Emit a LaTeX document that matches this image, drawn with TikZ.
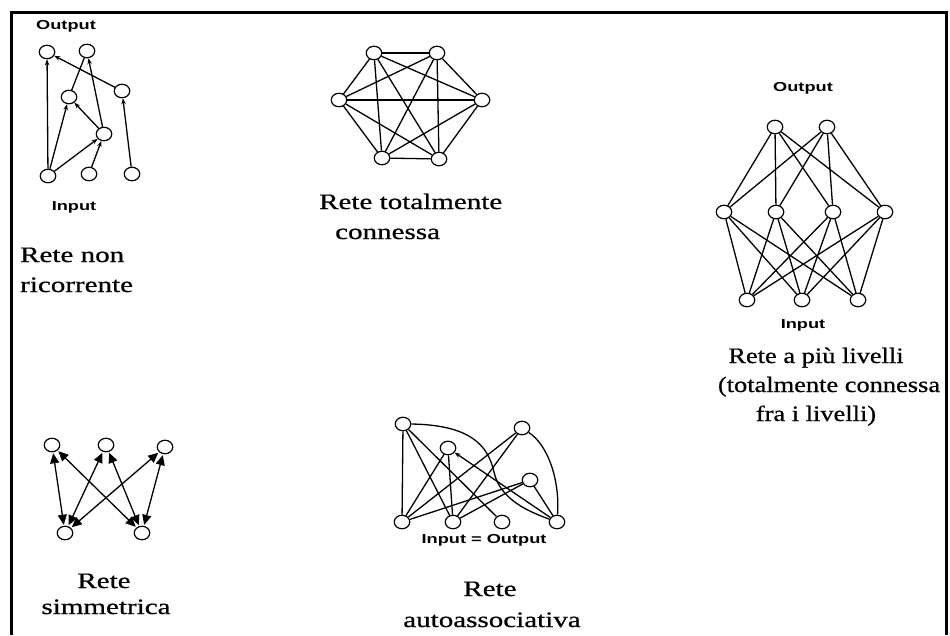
\documentclass[tikz,border=0pt]{standalone}
\usepackage{fontspec}
\setmainfont{Liberation Serif}[FakeBold=0.6]
\newfontfamily\labfont{Liberation Sans}
\usetikzlibrary{shapes.geometric,arrows.meta}
\newcommand\wtxt[1]{\scalebox{1.32}[1]{#1}}
\newcommand\ntxt[1]{\scalebox{1.2}[1]{#1}}
\newcommand\stxt[1]{\scalebox{1.4}[1]{#1}}
\tikzset{
  nd/.style={draw, ellipse, minimum width=15.5pt, minimum height=13.5pt, inner sep=0pt, line width=1.2pt, fill=white},
  ed/.style={line width=1.3pt},
  sarr/.style={ed, -{Stealth[length=6pt,width=4.5pt]}},
  barr/.style={ed, {Triangle[length=10pt,width=9pt]}-{Triangle[length=10pt,width=9pt]}, shorten <=1pt, shorten >=1pt},
  big/.style={inner sep=0pt, font=\fontsize{22}{26}\selectfont},
  small/.style={inner sep=0pt, font=\labfont\bfseries\fontsize{13}{15}\selectfont}
}
\begin{document}
\begin{tikzpicture}[x=1pt,y=-1pt]
\useasboundingbox (0,0) rectangle (950,635);
\fill[white] (0,0) rectangle (950,635);
\draw[line width=3pt] (11,635) -- (11,12) -- (946,12) -- (946,635);

% ---------- Panel 1: Rete non ricorrente
\node[nd] (p1o1) at (47,52) {};
\node[nd] (p1o2) at (87,51) {};
\node[nd] (p1h1) at (69,97) {};
\node[nd] (p1h2) at (122,91) {};
\node[nd] (p1h3) at (104,134) {};
\node[nd] (p1i1) at (48,176) {};
\node[nd] (p1i2) at (89,174) {};
\node[nd] (p1i3) at (132,174) {};
\draw[sarr] (p1i1) -- (p1o1);
\draw[sarr] (p1i1) -- (p1h1);
\draw[sarr] (p1i1) -- (p1h3);
\draw[sarr] (p1i2) -- (p1h3);
\draw[sarr] (p1i3) -- (p1h2);
\draw[sarr] (p1h3) -- (p1h1);
\draw[sarr] (p1h3) -- (p1o2);
\draw[ed] (p1h1) -- (p1o2);
\draw[sarr] (p1h2) -- (p1o1);
\node[small] (p1out) at (66,26) {\stxt{Output}};
\node[small] (p1in) at (74,207) {\stxt{Input}};
\node[big, anchor=base west] (p1t1) at (20,262) {\wtxt{Rete non}};
\node[big, anchor=base west] (p1t2) at (20,292) {\wtxt{ricorrente}};

% ---------- Panel 2: Rete totalmente connessa
\node[nd] (p2a) at (374,53) {};
\node[nd] (p2b) at (437,53) {};
\node[nd] (p2c) at (339,100) {};
\node[nd] (p2d) at (482,100) {};
\node[nd] (p2e) at (382,158) {};
\node[nd] (p2f) at (439,159) {};
\foreach \u/\v in {a/b,a/c,a/d,a/e,a/f,b/c,b/d,b/e,b/f,c/d,c/e,c/f,d/e,d/f,e/f}
  \draw[ed] (p2\u) -- (p2\v);
\node[big, anchor=base west] (p2t1) at (319,209) {\wtxt{Rete totalmente}};
\node[big, anchor=base west] (p2t2) at (335,239) {\wtxt{connessa}};

% ---------- Panel 3: Rete a piu livelli
\node[nd] (p3o1) at (775,127) {};
\node[nd] (p3o2) at (827,127) {};
\node[nd] (p3h1) at (724,212) {};
\node[nd] (p3h2) at (776,212) {};
\node[nd] (p3h3) at (833,212) {};
\node[nd] (p3h4) at (885,212) {};
\node[nd] (p3i1) at (747,300) {};
\node[nd] (p3i2) at (802,300) {};
\node[nd] (p3i3) at (858,300) {};
\foreach \o in {1,2} \foreach \h in {1,2,3,4} \draw[ed] (p3o\o) -- (p3h\h);
\foreach \h in {1,2,3,4} \foreach \i in {1,2,3} \draw[ed] (p3h\h) -- (p3i\i);
\node[small] (p3out) at (803,88) {\stxt{Output}};
\node[small] (p3in) at (803,325) {\stxt{Input}};
\node[big, anchor=base] (p3t1) at (816,363) {\ntxt{Rete a più livelli}};
\node[big, anchor=base] (p3t2) at (829,392) {\ntxt{(totalmente connessa}};
\node[big, anchor=base] (p3t3) at (816,421) {\ntxt{fra i livelli)}};

% ---------- Panel 4: Rete simmetrica
\node[nd] (p4t1) at (52,445) {};
\node[nd] (p4t2) at (106,445) {};
\node[nd] (p4t3) at (165,447) {};
\node[nd] (p4b1) at (65,533) {};
\node[nd] (p4b2) at (142,533) {};
\foreach \t in {1,2,3} \foreach \b in {1,2} \draw[barr] (p4t\t) -- (p4b\b);
\node[big, anchor=base] (p4r1) at (104,588) {\wtxt{Rete}};
\node[big, anchor=base] (p4r2) at (106,614) {\wtxt{simmetrica}};

% ---------- Panel 5: Rete autoassociativa
\node[nd] (p5n1) at (403,424) {};
\node[nd] (p5n2) at (448,448) {};
\node[nd] (p5n3) at (522,428) {};
\node[nd] (p5n4) at (530,480) {};
\node[nd] (p5b1) at (402,522) {};
\node[nd] (p5b2) at (453,522) {};
\node[nd] (p5b3) at (502,522) {};
\node[nd] (p5b4) at (557,522) {};
\draw[ed] (p5n1) -- (p5b1);
\draw[ed] (p5n1) -- (p5b2);
\draw[ed] (p5n1) -- (p5b3);
\draw[ed] (p5n2) -- (p5b1);
\draw[ed] (p5n2) -- (p5b2);
\draw[ed] (p5n3) -- (p5b1);
\draw[ed] (p5n3) -- (p5b2);
\draw[ed] (p5n4) -- (p5b1);
\draw[ed] (p5n4) -- (p5b2);
\draw[ed] (p5n4) -- (p5b4);
\draw[sarr] (p5b4) -- (p5n2);
\draw[ed] (p5n1.east) .. controls (470,425) and (488,445) .. (494,472)
                      .. controls (500,500) and (530,512) .. (p5b4);
\draw[ed] (p5n3) .. controls (548,445) and (560,480) .. (p5b4);
\node[small] (p5lab) at (484,540) {\stxt{Input = Output}};
\node[big, anchor=base] (p5r1) at (490,596) {\wtxt{Rete}};
\node[big, anchor=base] (p5r2) at (492,627) {\wtxt{autoassociativa}};
\end{tikzpicture}
\end{document}
